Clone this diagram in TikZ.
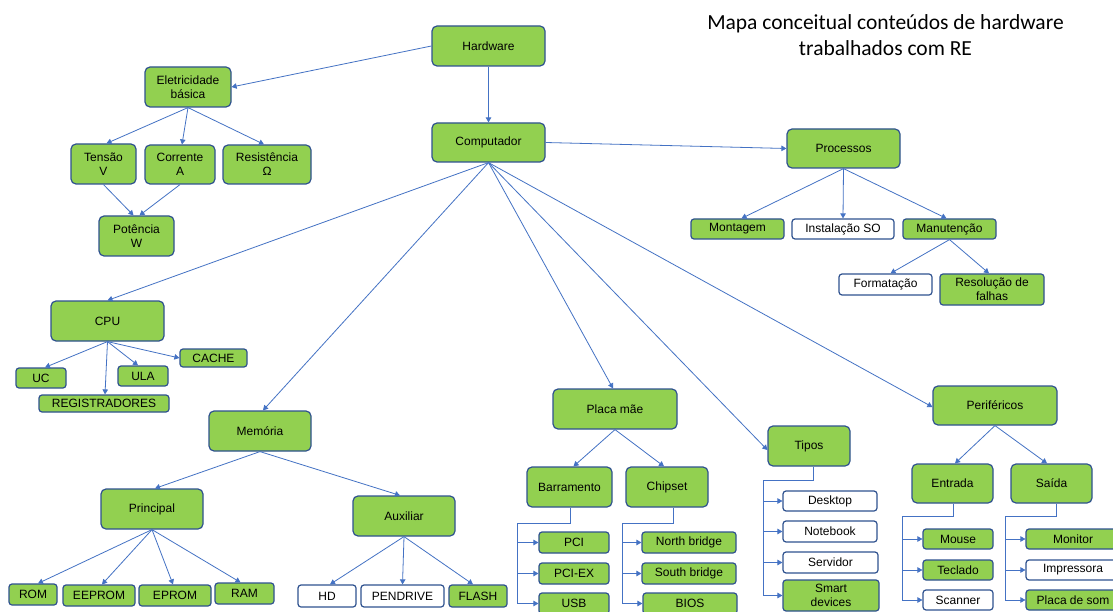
\documentclass[tikz,border=0pt]{standalone}
\usepackage{fontspec}
\setmainfont{Liberation Sans}
\newfontfamily\titlefont{Carlito}
\usetikzlibrary{arrows.meta}
\definecolor{gfill}{HTML}{92D050}
\definecolor{bord}{HTML}{2F528F}
\definecolor{conn}{HTML}{4472C4}
\tikzset{
  box/.style={draw=bord, line width=1.2pt, rounded corners=5pt, inner sep=0pt, align=center,
    font=\fontsize{12}{14}\selectfont, text=black},
  g/.style={box, fill=gfill},
  w/.style={box, fill=white},
  sm/.style={rounded corners=3pt},
  arr/.style={draw=conn, line width=0.8pt, -{Triangle[length=5pt,width=5.5pt]}},
  ln/.style={draw=conn, line width=0.8pt},
}
\begin{document}
\begin{tikzpicture}[x=1pt,y=-1pt]
\useasboundingbox (0,0) rectangle (1113,612);
\clip (0,0) rectangle (1113,612);
\fill[white] (0,0) rectangle (1113,612);

\node[font=\titlefont\fontsize{21.5}{26}\selectfont, align=center] (title) at (885.5,35.5)
  {Mapa conceitual conteúdos de hardware\\trabalhados com RE};

% top
\node[g, minimum width=113pt, minimum height=40pt] (hw) at (488.5,46) {Hardware};
\node[g, minimum width=86pt, minimum height=40pt] (ele) at (188,87) {Eletricidade\\básica};
\node[g, minimum width=65pt, minimum height=40pt] (ten) at (103.5,164) {Tensão\\V};
\node[g, minimum width=70pt, minimum height=39pt] (cor) at (180,164.5) {Corrente\\A};
\node[g, minimum width=88pt, minimum height=39pt] (res) at (267,164.5) {Resistência\\Ω};
\node[g, minimum width=75pt, minimum height=40pt] (pot) at (136.5,236) {Potência\\W};
\node[g, minimum width=113pt, minimum height=39pt] (comp) at (488.5,142.5) {Computador};

% processos
\node[g, minimum width=113pt, minimum height=39pt] (proc) at (843.5,148.5) {Processos};
\node[g, sm, minimum width=93pt, minimum height=20pt] (mont) at (737.5,229) {Montagem};
\node[w, sm, minimum width=102pt, minimum height=20pt] (inst) at (843,229) {Instalação SO};
\node[g, sm, minimum width=93pt, minimum height=20pt] (man) at (949.5,229) {Manutenção};
\node[w, sm, minimum width=93pt, minimum height=21pt] (form) at (885.5,284.5) {Formatação};
\node[g, sm, minimum width=104pt, minimum height=31pt] (resol) at (992,289.5) {Resolução de\\falhas};

% CPU
\node[g, minimum width=113pt, minimum height=40pt] (cpu) at (107.5,321) {CPU};
\node[g, sm, minimum width=50pt, minimum height=20pt] (uc) at (41,378) {UC};
\node[g, sm, minimum width=50pt, minimum height=20pt] (ula) at (143,376) {ULA};
\node[g, sm, minimum width=67pt, minimum height=18pt] (cache) at (213.5,358) {CACHE};
\node[g, sm, minimum width=130pt, minimum height=17pt] (reg) at (104,403.5) {REGISTRADORES};

% Memoria
\node[g, minimum width=102pt, minimum height=40pt] (mem) at (260,431) {Memória};
\node[g, minimum width=102pt, minimum height=40pt] (prin) at (152,509) {Principal};
\node[g, minimum width=102pt, minimum height=40pt] (aux) at (404,516) {Auxiliar};
\node[g, sm, minimum width=48pt, minimum height=21pt] (rom) at (33,594.5) {ROM};
\node[g, sm, minimum width=72pt, minimum height=21pt] (eeprom) at (99,595.5) {EEPROM};
\node[g, sm, minimum width=72pt, minimum height=21pt] (eprom) at (175,595.5) {EPROM};
\node[g, sm, minimum width=59pt, minimum height=21pt] (ram) at (244.5,593.5) {RAM};
\node[w, sm, minimum width=58pt, minimum height=22pt] (hd) at (327,596) {HD};
\node[w, sm, minimum width=83pt, minimum height=22pt] (pen) at (402.5,596) {PENDRIVE};
\node[g, sm, minimum width=58pt, minimum height=22pt] (flash) at (478,596) {FLASH};

% Placa mae
\node[g, minimum width=124pt, minimum height=40pt] (placa) at (615,409) {Placa mãe};
\node[g, minimum width=85pt, minimum height=40pt] (barr) at (569.5,487) {Barramento};
\node[g, minimum width=82pt, minimum height=40pt] (chip) at (667,487) {Chipset};
\node[g, sm, minimum width=70pt, minimum height=21pt] (pci) at (574,542.5) {PCI};
\node[g, sm, minimum width=70pt, minimum height=21pt] (pciex) at (574,573.5) {PCI-EX};
\node[g, sm, minimum width=70pt, minimum height=21pt] (usb) at (574,603.5) {USB};
\node[g, sm, minimum width=94pt, minimum height=21pt] (nb) at (689,542.5) {North bridge};
\node[g, sm, minimum width=94pt, minimum height=21pt] (sb) at (689,573.5) {South bridge};
\node[g, sm, minimum width=94pt, minimum height=21pt] (bios) at (690,603.5) {BIOS};

% Tipos
\node[g, minimum width=82pt, minimum height=40pt] (tipos) at (809,446) {Tipos};
\node[w, sm, minimum width=94pt, minimum height=20pt] (desk) at (830,501) {Desktop};
\node[w, sm, minimum width=94pt, minimum height=21pt] (note) at (830,531.5) {Notebook};
\node[w, sm, minimum width=95pt, minimum height=21pt] (serv) at (830.5,562.5) {Servidor};
\node[g, sm, minimum width=96pt, minimum height=31pt] (smart) at (831,595.5) {Smart\\devices};

% Perifericos
\node[g, minimum width=124pt, minimum height=39pt] (peri) at (995,405.5) {Periféricos};
\node[g, minimum width=81pt, minimum height=39pt] (ent) at (952.5,483.5) {Entrada};
\node[g, minimum width=81pt, minimum height=39pt] (sai) at (1051.5,483.5) {Saída};
\node[g, sm, minimum width=70pt, minimum height=20pt] (mouse) at (958,539) {Mouse};
\node[g, sm, minimum width=70pt, minimum height=20pt] (tec) at (958,570) {Teclado};
\node[w, sm, minimum width=70pt, minimum height=20pt] (scan) at (958,600) {Scanner};
\node[g, sm, minimum width=94pt, minimum height=20pt] (moni) at (1073,539) {Monitor};
\node[w, sm, minimum width=94pt, minimum height=20pt] (impr) at (1073,570) {Impressora};
\node[g, sm, minimum width=94pt, minimum height=20pt] (psom) at (1073,600) {Placa de som};

% connectors
\draw[arr] (hw.west) -- (ele.east);
\draw[arr] (hw.south) -- (comp.north);
\draw[arr] (ele.south) -- ([xshift=3pt]ten.north);
\draw[arr] (ele.south) -- ([xshift=2pt]cor.north);
\draw[arr] (ele.south) -- ([xshift=-3pt]res.north);
\draw[arr] (ten.south) -- ([xshift=-3pt]pot.north);
\draw[arr] (cor.south) -- ([xshift=3pt]pot.north);

\draw[arr] (comp.east) -- (proc.west);
\draw[arr] (proc.south) -- ([xshift=4pt]mont.north);
\draw[arr] (proc.south) -- (inst.north);
\draw[arr] (proc.south) -- ([xshift=-3pt]man.north);
\draw[arr] (man.south) -- ([xshift=5pt]form.north);
\draw[arr] (man.south) -- ([xshift=-3pt]resol.north);

\draw[arr] (comp.south) -- (cpu.north);
\draw[arr] (comp.south) -- ([xshift=3pt]mem.north);
\draw[arr] (comp.south) -- ([xshift=-2pt]placa.north);
\draw[arr] (comp.south) -- ([yshift=-4pt]tipos.west);
\draw[arr] (comp.south) -- ([yshift=-1.5pt]peri.west);

\draw[arr] (cpu.south) -- ([xshift=4pt]uc.north);
\draw[arr] (cpu.south) -- ([xshift=1pt]reg.north);
\draw[arr] (cpu.south) -- ([xshift=-5pt]ula.north);
\draw[arr] (cpu.south) -- (cache.west);

\draw[arr] (mem.south) -- ([xshift=3pt]prin.north);
\draw[arr] (mem.south) -- ([xshift=-4pt]aux.north);
\draw[arr] (prin.south) -- ([xshift=5pt]rom.north);
\draw[arr] (prin.south) -- ([xshift=3pt]eeprom.north);
\draw[arr] (prin.south) -- ([xshift=-2pt]eprom.north);
\draw[arr] (prin.south) -- ([xshift=-4pt]ram.north);
\draw[arr] (aux.south) -- ([xshift=3pt]hd.north);
\draw[arr] (aux.south) -- (pen.north);
\draw[arr] (aux.south) -- ([xshift=-5pt]flash.north);

\draw[arr] (placa.south) -- ([xshift=4pt]barr.north);
\draw[arr] (placa.south) -- ([xshift=-3pt]chip.north);
\draw[arr] (peri.south) -- ([xshift=2.5pt]ent.north);
\draw[arr] (peri.south) -- ([xshift=-4.5pt]sai.north);

% tree connectors
\coordinate (bL) at (517,523);
\draw[ln] ([xshift=0.5pt]barr.south) |- (bL);
\draw[arr] (bL) |- (usb.west);
\draw[arr] (bL |- pci.west) -- (pci.west);
\draw[arr] (bL |- pciex.west) -- (pciex.west);

\coordinate (cL) at (622,523);
\draw[ln] ([xshift=6pt]chip.south) |- (cL);
\draw[arr] (cL) |- (bios.west);
\draw[arr] (cL |- nb.west) -- (nb.west);
\draw[arr] (cL |- sb.west) -- (sb.west);

\coordinate (tL) at (763,480);
\draw[ln] ([xshift=4pt]tipos.south) |- (tL);
\draw[arr] (tL) |- (smart.west);
\draw[arr] (tL |- desk.west) -- (desk.west);
\draw[arr] (tL |- note.west) -- (note.west);
\draw[arr] (tL |- serv.west) -- (serv.west);

\coordinate (eL) at (902,516);
\draw[ln] ([xshift=1pt]ent.south) |- (eL);
\draw[arr] (eL) |- (scan.west);
\draw[arr] (eL |- mouse.west) -- (mouse.west);
\draw[arr] (eL |- tec.west) -- (tec.west);

\coordinate (sL) at (1005,516);
\draw[ln] ([xshift=5pt]sai.south) |- (sL);
\draw[arr] (sL) |- (psom.west);
\draw[arr] (sL |- moni.west) -- (moni.west);
\draw[arr] (sL |- impr.west) -- (impr.west);
\end{tikzpicture}
\end{document}
